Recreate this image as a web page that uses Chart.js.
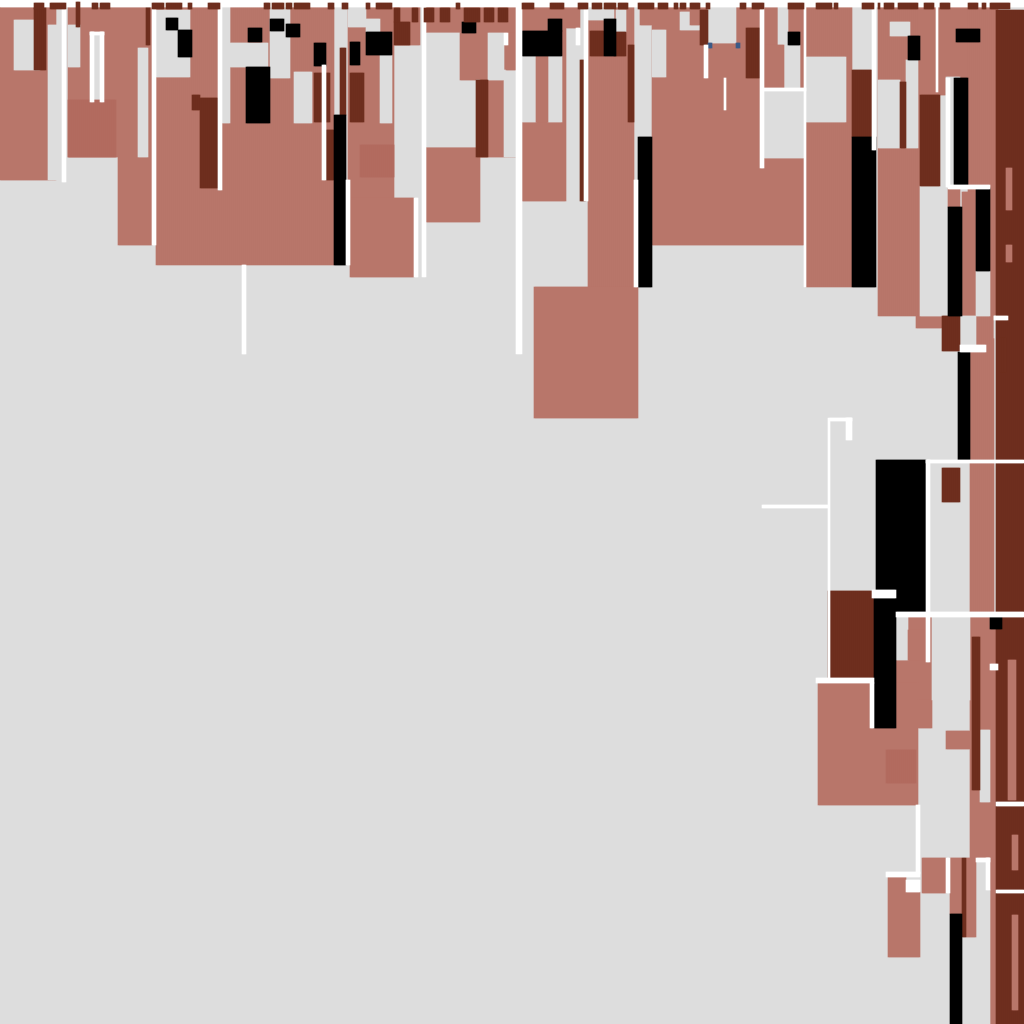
<!DOCTYPE html>
<html><head><meta charset="utf-8">
<script src="https://cdn.jsdelivr.net/npm/chart.js@4.4.1/dist/chart.umd.min.js"></script>
<style>html,body{margin:0;padding:0;background:#dddddd;overflow:hidden}canvas{display:block}</style>
</head><body>
<canvas id="c" width="1024" height="1024"></canvas>
<script>
// Each block: [left, right, top, bottom] in the chart's own units (0..1024 on both axes)
const salmonBlocks = [
  [0,55,7,180],[67,118,7,157],[118,152,7,245],[155,222,7,265],[222,333,7,265],
  [348,394,7,200],[349,414,198,277],[394,420,7,45],[426,480,7,222],[476,516,7,157],
  [522,566,7,201],[566,580,7,28],[588,633,7,287],[533,638,287,418],[640,652,7,25],
  [651,803,7,245],[806,852,7,287],[877,920,7,316],[920,945,7,95],[945,967,7,78],
  [967,998,7,316],[961,976,192,316],[948,960,188,207],[916,942,316,328],
  [969,993,316,612],[998,1008,316,372],[896,932,617,700],[970,998,617,860],
  [988,996,860,1024],[817,917,683,805],[917,932,700,728]
];
const grayBlocks = [
  [13,40,20,70],[48,62,25,180],[67,80,25,67],[94,100,35,100],[137,148,48,157],
  [155,190,10,77],[222,230,7,123],[230,267,43,67],[269,290,7,78],[293,312,72,123],
  [348,365,7,27],[365,380,19,32],[379,392,55,123],[426,480,80,147],[426,460,33,80],
  [488,503,33,80],[503,516,70,157],[522,535,56,122],[548,561,56,122],[588,613,7,20],
  [616,626,10,32],[651,665,30,77],[680,700,12,30],[708,735,7,43],[763,803,90,158],
  [777,787,7,90],[788,800,45,90],[806,846,57,122],[877,900,80,148],[905,918,60,148],
  [890,910,22,36],[945,960,77,187],[920,945,186,316],[975,990,271,316],[960,975,316,345],
  [993,1008,316,338],[896,908,617,660],[932,970,617,700],[980,990,730,802],[962,990,890,1024]
];
const shadeBlocks = [
  [67,115,100,157],[360,393,145,177],[885,915,750,783]
];
const salmonDetails = [
  [690,700,10,25],[763,783,45,90],[535,548,56,122],[506,516,33,70],[460,476,33,80],
  [966,975,858,937],[949,962,858,914],[921,945,858,893],[887,905,877,957],[905,920,892,957],
  [946,970,731,749],[908,926,630,660],[995,1004,48,80]
];
const brownBlocks = [
  [33,46,3,70],[145,150,7,45],[192,200,95,110],[200,218,98,188],[313,330,73,122],
  [325,333,130,180],[340,346,48,115],[349,364,73,122],[394,410,22,45],[476,488,80,157],
  [580,585,60,201],[589,603,31,56],[614,626,32,56],[628,634,45,122],[700,708,10,45],
  [745,760,28,78],[852,872,70,137],[900,905,82,148],[920,940,95,186],[995,1024,10,1024],
  [941,960,468,502],[828,873,591,678],[972,980,637,790],[942,960,316,351],[961,966,858,937],
  [1000,1006,338,372]
];
const stripeSalmon = [
  [1006,1012,168,210],[1006,1012,245,262],[1008,1016,660,800],[1012,1018,835,870],[1012,1018,915,1010]
];
const blackBlocks = [
  [166,178,18,30],[178,192,30,57],[246,269,67,123],[248,262,28,42],[270,283,19,31],
  [286,300,24,37],[313,326,43,66],[333,346,115,265],[349,360,42,65],[365,391,32,55],
  [461,475,22,33],[522,561,31,56],[548,561,19,31],[603,616,19,56],[638,651,137,287],
  [788,800,32,45],[852,876,137,287],[908,920,36,60],[955,980,29,42],[954,967,78,186],
  [948,961,207,316],[976,989,188,271],[957,970,352,460],[876,926,460,590],[896,926,590,612],
  [873,896,598,728],[990,1002,616,629],[949,961,914,1024]
];
const blueBlocks = [[708,712,43,48],[736,740,43,48]];
const whiteLines = [
  [0,1024,0,7],[62,66,0,182],[90,94,32,102],[100,103,32,102],[90,103,32,35],
  [152,155,0,245],[218,222,0,190],[242,246,265,354],[322,326,65,180],[346,349,180,265],
  [414,418,198,277],[421,426,0,277],[503,508,33,45],[516,521,0,354],[576,580,28,45],
  [584,588,0,201],[633,637,180,287],[703,708,45,78],[723,725,78,110],[760,764,7,168],
  [762,806,88,91],[803,806,7,287],[872,876,7,150],[935,938,7,92],[945,949,78,187],
  [948,990,185,189],[960,985,345,352],[762,827,505,508],[827,830,418,680],[830,852,418,421],
  [845,852,418,440],[926,1024,460,463],[926,929,460,612],[896,1024,612,617],[872,896,590,598],
  [816,873,678,683],[870,873,683,728],[926,930,617,662],[995,1024,802,806],[995,1024,890,893],
  [915,919,805,874],[886,919,872,877],[905,919,880,892],[945,950,858,893],[975,990,858,862],
  [985,990,858,890],[993,1008,316,320],[990,998,664,670]
];
const topBrown = [
  [33,43,3,9],[50,65,3,9],[76,80,2,27],[92,97,3,9],[99,110,3,9],[152,163,3,9],[166,182,3,9],
  [187,192,3,9],[208,219,3,9],[264,269,3,9],[272,283,3,9],[286,291,3,9],[294,309,3,9],[327,333,3,9],
  [342,347,3,9],[365,370,3,9],[376,392,3,9],[455,460,3,9],[522,533,3,9],[549,564,3,9],
  [578,588,3,9],[591,601,3,9],[604,615,3,9],[618,628,3,9],[638,654,3,9],[657,667,3,9],[673,678,3,9],
  [393,399,8,22],[412,417,8,22],[423,434,8,22],[440,450,8,22],[463,480,8,22],[484,494,8,22],[498,508,8,22],
  [680,686,3,9],[690,700,3,9],[705,710,3,9],[740,745,3,9],[751,763,3,9],[788,803,3,9],
  [815,832,3,9],[833,838,3,9],[862,873,3,9],[877,880,3,9],[884,893,3,9],[898,918,3,9],
  [924,933,3,9],[940,950,3,9],[968,977,3,9],[982,985,3,9],[990,1010,3,9]
];

const columnCount = 512;
const columnLabels = Array.from({length: columnCount}, (_, i) => String(i));
const palette = {
  salmon: '#b8766a', gray: '#dddddd', shade: '#b26b5f', brown: '#6e2e1e',
  black: '#000000', blue: '#3b5a86', white: '#ffffff'
};
const layers = [
  [salmonBlocks, palette.salmon], [grayBlocks, palette.gray], [shadeBlocks, palette.shade],
  [salmonDetails, palette.salmon], [brownBlocks, palette.brown], [stripeSalmon, palette.salmon],
  [blackBlocks, palette.black], [blueBlocks, palette.blue], [whiteLines, palette.white],
  [topBrown, palette.brown]
];
const unit = 1024 / columnCount;
const datasets = [];
layers.forEach(([blocks, color]) => {
  blocks.forEach(([l, r, t, b]) => {
    const c0 = Math.max(0, Math.round(l / unit));
    const c1 = Math.min(columnCount, Math.max(c0 + 1, Math.round(r / unit)));
    const data = new Array(columnCount).fill(null);
    for (let i = c0; i < c1; i++) data[i] = [t, b];
    datasets.push({data, backgroundColor: color, borderWidth: 0,
      categoryPercentage: 1, barPercentage: 1, grouped: false});
  });
});
const n = datasets.length;
datasets.forEach((d, i) => { d.order = n - i; });

new Chart(document.getElementById('c'), {
  type: 'bar',
  data: {labels: columnLabels, datasets},
  options: {
    responsive: false, animation: false, devicePixelRatio: 1, events: [],
    layout: {padding: 0},
    plugins: {legend: {display: false}, tooltip: {enabled: false}},
    scales: {
      x: {display: false, offset: true, grid: {display: false}},
      y: {display: false, min: 0, max: 1024, reverse: true, grid: {display: false}}
    }
  }
});
</script>
</body></html>
